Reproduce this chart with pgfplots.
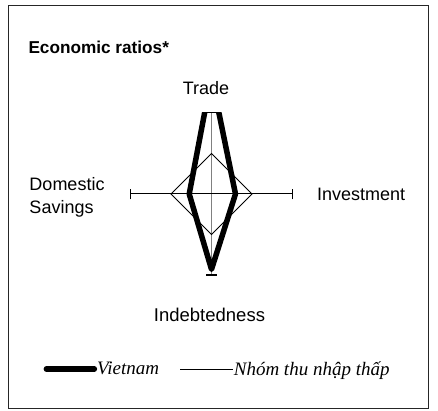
\documentclass[border=0pt]{standalone}
\usepackage{fontspec}
\setmainfont{Liberation Sans}
\newfontfamily\serifit{Liberation Serif}
\usepackage{pgfplots}
\pgfplotsset{compat=1.18}
\pgfplotsset{
  thickleg/.style={legend image code/.code={\draw[##1] (0bp,0bp) -- (48bp,0bp);}},
  thinleg/.style={legend image code/.code={\draw[##1] (0bp,0bp) -- (53bp,0bp);}},
}
\begin{document}
\begin{tikzpicture}
\pgfplotsset{base/.style={x=81bp, y=81bp, axis lines=none, scale only axis}}
\begin{axis}[base, name=main,
  xmin=-2.6111, xmax=2.7963, ymin=-2.6790, ymax=2.3951, clip=false,
  legend columns=2,
  legend style={at={(axis cs:-2.075,-2.16)}, anchor=west, draw=none, fill=none,
    font=\fontsize{19bp}{22bp}\selectfont\serifit\itshape,
    inner xsep=0pt, inner ysep=0pt,
    nodes={inner xsep=0bp, inner ysep=1bp},
    /tikz/every even column/.append style={column sep=21bp}},
]
\path (rel axis cs:0,0) rectangle (rel axis cs:1,1);
% frame
\draw[line width=1bp, black!85] (axis cs:-2.506,-2.654) rectangle (axis cs:2.685,2.321);
% legend images
\addlegendimage{thickleg, black, line width=5.5bp, line cap=round}
\addlegendentry{Vietnam}
\addlegendimage{thinleg, black, line width=0.8bp}
\addlegendentry{Nhóm thu nhập thấp}
% axes of the diamond
\addplot[black!50, line width=1bp, forget plot] coordinates {(0,-1) (0,1)};
\addplot[black, line width=1bp, forget plot] coordinates {(-1,0) (1,0)};
\addplot[black, line width=1bp, forget plot] coordinates {(-1,-0.065) (-1,0.065)};
\addplot[black, line width=1bp, forget plot] coordinates {(1,-0.065) (1,0.065)};
\addplot[black, line width=1bp, forget plot] coordinates {(-0.07,1) (0.07,1)};
\addplot[black, line width=2bp, forget plot] coordinates {(-0.065,-1) (0.065,-1)};
% low income group
\addplot[black, line width=0.8bp, line join=miter, forget plot] coordinates {(0,0.5) (0.5,0) (0,-0.5) (-0.5,0) (0,0.5)} -- cycle;
% texts
\node[anchor=base west, inner sep=0pt, font=\fontsize{17.2bp}{20bp}\selectfont\bfseries] at (axis cs:-2.2617,1.737) {Economic ratios*};
\node[anchor=base, font=\fontsize{18bp}{21bp}\selectfont, inner sep=0pt] at (axis cs:-0.068,1.2309) {Trade};
\node[anchor=base west, font=\fontsize{18bp}{21bp}\selectfont, inner sep=0pt] at (axis cs:1.3025,-0.0864) {Investment};
\node[anchor=base west, font=\fontsize{18bp}{21bp}\selectfont, inner sep=0pt] at (axis cs:-2.2494,0.0407) {Domestic};
\node[anchor=base west, font=\fontsize{18bp}{21bp}\selectfont, inner sep=0pt] at (axis cs:-2.2494,-0.2346) {Savings};
\node[anchor=base, font=\fontsize{18.5bp}{21bp}\selectfont, inner sep=0pt] at (axis cs:-0.025,-1.58) {Indebtedness};
\coordinate (C) at (axis cs:-1.2,-1.2);
\end{axis}
\begin{axis}[base, at={(C)}, anchor=south west,
  xmin=-1.2, xmax=1.2, ymin=-1.2, ymax=1.0, clip=true]
\addplot[black, line width=5.5bp, line join=round] coordinates {(0,1.45) (0.296,0) (0,-0.93) (-0.275,0) (0,1.45)} -- cycle;
\end{axis}
\end{tikzpicture}
\end{document}
